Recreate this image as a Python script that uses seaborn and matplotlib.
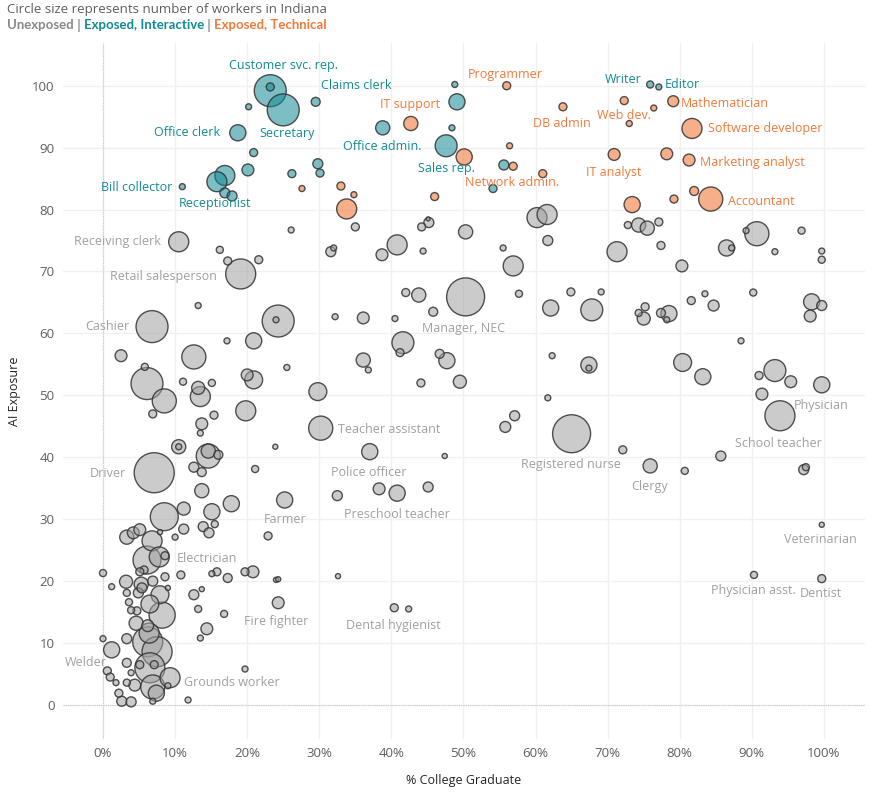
import numpy as np
import pandas as pd
import matplotlib
matplotlib.use("Agg")
import matplotlib.pyplot as plt
import seaborn as sns

# --- Daten: % College-Absolventen, KI-Exposition, Beschäftigte (Tsd.) ---
# Exposed, Interactive
inter_pct = [23.2, 23.2, 25.0, 20.2, 29.5, 18.7, 20.9, 20.1, 16.9, 15.8, 16.9, 17.9, 11.0,
             26.2, 29.8, 30.1, 38.8, 47.6, 49.1, 48.8, 48.4, 55.6, 54.1, 75.9, 77.1]
inter_ai = [99.2, 99.8, 96.1, 96.6, 97.4, 92.4, 89.2, 86.4, 85.5, 84.5, 82.7, 82.2, 83.7,
            85.8, 87.4, 85.9, 93.2, 90.3, 97.4, 100.2, 93.2, 87.2, 83.4, 100.2, 99.8]
inter_workers = [51, 3.2, 51, 1.8, 4, 13, 3.2, 7, 20, 20, 5, 5, 1.8,
                 3.2, 5, 3.2, 10, 24, 13, 1.8, 1.8, 5, 3.2, 2.5, 1.8]
inter_names = ["Customer svc. rep.", "", "Secretary", "", "Claims clerk", "Office clerk", "", "", "", "",
               "Receptionist", "", "Bill collector", "", "", "", "Office admin.", "Sales rep.", "", "", "",
               "", "", "Writer", "Editor"]

# Exposed, Technical
tech_pct = [42.7, 27.6, 33.0, 34.8, 33.8, 46.0, 50.1, 56.0, 56.4, 56.9, 63.8, 61.0,
            72.3, 73.0, 76.4, 79.1, 81.7, 70.9, 78.2, 81.3, 73.4, 79.2, 82.0, 84.3]
tech_ai = [93.9, 83.4, 83.8, 82.4, 80.1, 82.1, 88.5, 100.0, 90.3, 87.0, 96.6, 85.8,
           97.6, 93.9, 96.4, 97.5, 93.1, 88.9, 89.0, 88.0, 80.8, 81.7, 83.0, 81.7]
tech_workers = [10, 1.8, 3.2, 1.8, 20, 3.2, 13, 3.2, 1.8, 3.2, 3.2, 3.2,
                3.2, 1.8, 1.8, 6, 20, 7, 7, 7, 13, 3.2, 4, 29]
tech_names = ["IT support", "", "", "", "", "", "", "Programmer", "", "Network admin.", "DB admin", "",
              "Web dev.", "", "", "Mathematician", "Software developer", "IT analyst", "",
              "Marketing analyst", "", "", "", "Accountant"]

# Unexposed
unexp_pct = [26.1, 35.0, 31.6, 32.0, 38.7, 40.8, 44.2, 45.2, 45.1, 44.4, 50.3, 60.2, 61.6, 55.5,
             56.9, 61.7, 72.8, 74.3, 75.5, 77.1, 71.3, 77.4, 80.3, 86.5, 87.2, 89.2, 90.7, 93.2,
             96.9, 99.7, 99.7, 10.5, 16.2, 17.3, 21.6, 19.1, 42.0, 43.8, 50.3, 57.7, 62.1, 64.9,
             69.1, 67.8, 75.2, 74.3, 75.0, 77.4, 78.5, 78.2, 81.6, 83.5, 84.7, 90.2, 98.3, 99.7,
             98.1, 13.2, 32.2, 36.1, 40.5, 45.8, 24.3, 24.0, 6.8, 41.6, 41.2, 36.1, 36.8, 25.5,
             46.7, 47.7, 49.5, 44.1, 62.3, 61.7, 29.8, 88.5, 67.4, 67.4, 80.4, 83.2, 91.0, 93.2,
             95.4, 99.7, 91.4, 93.9, 57.1, 55.8, 65.0, 47.4, 72.1, 75.9, 80.7, 85.7, 97.2, 97.5,
             99.7, 90.3, 99.7, 2.5, 12.6, 20.9, 17.2, 5.8, 6.1, 8.5, 6.9, 11.1, 13.2, 13.5, 15.1,
             20.0, 20.9, 19.8, 15.4, 13.7, 13.5, 30.2, 10.5, 10.5, 14.6, 14.6, 16.0, 12.6, 13.7,
             21.1, 23.9, 7.1, 37.0, 38.3, 40.8, 45.1, 32.5, 25.2, 13.7, 17.8, 11.2, 15.1, 8.5,
             11.2, 13.9, 14.7, 15.5, 10.0, 7.9, 22.9, 3.3, 4.2, 5.1, 6.8, 6.1, 7.8, 8.6, 5.7,
             5.1, 0.0, 3.2, 6.9, 8.6, 10.8, 15.1, 15.8, 17.3, 19.7, 20.8, 24.0, 24.3, 32.6, 1.2,
             3.3, 5.3, 4.9, 5.4, 7.9, 9.0, 12.6, 13.7, 3.6, 3.9, 4.7, 6.5, 8.2, 13.2, 16.8, 24.3,
             4.6, 6.2, 14.4, 13.5, 40.4, 42.4, 6.4, 6.2, 7.5, 3.3, 0.0, 1.2, 3.3, 5.1, 6.5, 7.1,
             3.9, 0.6, 1.0, 1.8, 4.4, 3.3, 6.9, 9.3, 9.0, 2.2, 2.6, 3.9, 7.4, 6.9, 11.8, 19.7]
unexp_ai = [76.7, 77.2, 73.2, 73.8, 72.7, 74.3, 77.2, 77.9, 78.5, 73.3, 76.4, 78.7, 79.2, 73.8,
            70.9, 75.0, 77.5, 77.5, 77.0, 78.0, 73.2, 74.2, 70.9, 73.8, 73.8, 76.6, 76.1, 73.2,
            76.6, 73.3, 71.9, 74.8, 73.5, 71.7, 71.9, 69.6, 66.6, 66.2, 65.9, 66.4, 64.1, 66.7,
            66.7, 63.8, 64.3, 63.3, 62.4, 63.3, 63.2, 62.2, 65.3, 66.4, 64.5, 66.6, 65.1, 64.5,
            62.8, 64.5, 62.7, 62.5, 62.4, 63.5, 62.0, 62.2, 61.1, 58.5, 56.9, 55.7, 54.1, 54.5,
            56.7, 55.6, 52.2, 52.0, 56.4, 49.6, 50.6, 58.8, 54.9, 54.4, 55.3, 53.0, 53.2, 54.0,
            52.2, 51.7, 50.2, 46.7, 46.7, 44.9, 43.8, 40.2, 41.2, 38.6, 37.8, 40.2, 38.0, 38.4,
            29.1, 21.0, 20.4, 56.4, 56.2, 58.8, 58.8, 54.6, 51.9, 49.1, 47.0, 52.2, 51.2, 49.8, 52.0,
            53.3, 52.5, 47.5, 46.8, 45.4, 43.9, 44.7, 41.7, 41.7, 40.2, 41.0, 40.4, 38.4, 37.6,
            38.1, 41.7, 37.5, 40.9, 34.9, 34.2, 35.2, 33.8, 33.1, 34.6, 32.5, 31.7, 31.2, 30.4,
            28.4, 28.8, 27.8, 29.2, 27.1, 27.9, 27.3, 27.1, 27.8, 28.3, 26.5, 23.4, 23.9, 24.1, 21.8,
            21.5, 21.3, 19.9, 20.0, 20.7, 21.0, 21.2, 21.5, 20.5, 21.5, 21.5, 20.2, 20.3, 20.8, 19.1,
            18.1, 19.5, 18.1, 18.9, 17.8, 18.9, 17.8, 18.7, 16.6, 15.3, 15.2, 16.3, 14.5, 15.5, 14.7, 16.5,
            13.2, 12.8, 12.3, 10.8, 15.7, 15.5, 11.6, 10.2, 8.6, 10.7, 10.7, 8.9, 6.8, 6.5, 6.0, 6.5,
            5.2, 5.5, 4.5, 3.6, 3.2, 3.6, 2.9, 4.4, 3.1, 1.9, 0.6, 0.5, 1.9, 0.6, 0.8, 5.8]
unexp_workers = [1.8, 3.2, 5, 1.8, 7, 20, 3.2, 5, 0.8, 1.8, 10, 20, 20, 1.8,
                 20, 5, 2.5, 10, 10, 3.2, 20, 3.2, 7, 13, 1.8, 1.8, 29, 1.8,
                 2.5, 1.8, 2.5, 20, 2.5, 3.2, 3.2, 45, 3.2, 10, 72, 2.5, 13, 3.2,
                 1.8, 24, 3.2, 2.5, 8.5, 4, 13, 1.8, 3.2, 1.8, 6, 2.5, 13, 5,
                 7, 1.8, 1.8, 7, 1.8, 4, 51, 1.8, 51, 24, 3.2, 10, 1.8, 1.8,
                 4, 13, 8.5, 3.2, 1.8, 1.8, 16, 1.8, 13, 1.8, 16, 13, 3.2, 24,
                 7, 13, 7, 45, 5, 6, 72, 1.3, 3.2, 10, 2.5, 5, 5, 2.5,
                 1.3, 2.5, 3.2, 7, 29, 13, 1.8, 2.5, 51, 29, 3.2, 2.5, 8.5, 20, 2.5,
                 7, 16, 20, 3.2, 7, 1.8, 29, 10, 1.8, 29, 10, 4, 5, 4,
                 2.5, 1.3, 80, 13, 7, 13, 5, 5, 13, 10, 13, 8.5, 13, 39,
                 5, 5, 5, 2.5, 1.8, 1.3, 3.2, 10, 7, 7, 20, 39, 20, 3.2, 3.2,
                 3.2, 2.5, 8.5, 5, 3.2, 3.2, 1.8, 3.2, 4, 3.2, 7, 1.3, 1.3, 1.3, 1.8,
                 2.5, 10, 5, 5, 16, 1.3, 5, 1.3, 2.5, 2.5, 3.2, 16, 34, 2.5, 2.5, 7,
                 10, 7, 7, 1.8, 3.2, 1.8, 20, 45, 45, 5, 1.8, 13, 4, 3.2, 45, 3.2,
                 1.8, 3.2, 3.2, 1.8, 7, 2.5, 29, 20, 1.8, 3.2, 5, 5, 13, 1.8, 1.8, 1.8]
unexp_labels = {  # (pct, ai) -> Beruf
    (10.5, 74.8): "Receiving clerk", (19.1, 69.6): "Retail salesperson",
    (50.3, 65.9): "Manager, NEC", (6.8, 61.1): "Cashier", (99.7, 51.7): "Physician",
    (93.9, 46.7): "School teacher", (65.0, 43.8): "Registered nurse", (75.9, 38.6): "Clergy",
    (99.7, 29.1): "Veterinarian", (90.3, 21.0): "Physician asst.", (99.7, 20.4): "Dentist",
    (30.2, 44.7): "Teacher assistant", (7.1, 37.5): "Driver", (37.0, 40.9): "Police officer",
    (40.8, 34.2): "Preschool teacher", (25.2, 33.1): "Farmer", (7.8, 23.9): "Electrician",
    (24.3, 16.5): "Fire fighter", (40.4, 15.7): "Dental hygienist", (3.3, 6.8): "Welder",
    (9.3, 4.4): "Grounds worker",
}
unexp_names = [unexp_labels.get((p, a), "") for p, a in zip(unexp_pct, unexp_ai)]

groups = ["Unexposed", "Exposed, Interactive", "Exposed, Technical"]

# --- Layout der Beschriftungen: (dx px, dy px nach unten, ha) ---
label_pos = {
    "Customer svc. rep.": (13, -25, "center"), "Claims clerk": (5, -16, "left"),
    "Secretary": (-24, 24, "left"), "Office clerk": (-18, 0, "right"),
    "Office admin.": (0, 19, "center"), "Sales rep.": (0, 23, "center"),
    "Bill collector": (-10, 1, "right"), "Receptionist": (-10, 11, "center"),
    "Writer": (-8, -5, "right"), "Editor": (6, -2, "left"),
    "Programmer": (-1, -11, "center"), "IT support": (-1, -19, "center"),
    "DB admin": (-1, 17, "center"), "Web dev.": (0, 15, "center"),
    "Mathematician": (8, 2, "left"), "Software developer": (16, 0, "left"),
    "Marketing analyst": (11, 2, "left"), "IT analyst": (0, 18, "center"),
    "Network admin.": (-1, 16, "center"), "Accountant": (17, 2, "left"),
    "Receiving clerk": (-18, 0, "right"), "Retail salesperson": (-24, 3, "right"),
    "Cashier": (-23, 0, "right"), "Manager, NEC": (-2, 32, "center"),
    "Teacher assistant": (17, 1, "left"), "Driver": (-28, 1, "right"),
    "Police officer": (-1, 21, "center"), "Registered nurse": (-1, 31, "center"),
    "Clergy": (-1, 21, "center"), "Physician": (-1, 21, "center"),
    "School teacher": (-1, 28, "center"), "Farmer": (0, 20, "center"),
    "Preschool teacher": (0, 21, "center"), "Electrician": (18, 2, "left"),
    "Veterinarian": (-1, 15, "center"), "Physician asst.": (-1, 16, "center"),
    "Dentist": (-1, 15, "center"), "Fire fighter": (-2, 19, "center"),
    "Dental hygienist": (-1, 18, "center"), "Welder": (-20, 0, "right"),
    "Grounds worker": (14, 5, "left"),
}

grey, teal, orange = "#a0a0a0", "#118a93", "#f07a3a"
fill = {
    "Unexposed": (0.63, 0.63, 0.63, 0.55),
    "Exposed, Interactive": (0.07, 0.54, 0.58, 0.55),
    "Exposed, Technical": (0.94, 0.48, 0.23, 0.6),
}
text_col = {"Unexposed": grey, "Exposed, Interactive": teal, "Exposed, Technical": orange}

df = pd.concat([
    pd.DataFrame({"pct": unexp_pct, "ai": unexp_ai, "workers": unexp_workers,
                  "name": unexp_names, "group": groups[0]}),
    pd.DataFrame({"pct": inter_pct, "ai": inter_ai, "workers": inter_workers,
                  "name": inter_names, "group": groups[1]}),
    pd.DataFrame({"pct": tech_pct, "ai": tech_ai, "workers": tech_workers,
                  "name": tech_names, "group": groups[2]}),
], ignore_index=True)
df["order"] = df["group"].map({g: i for i, g in enumerate(groups)})
df = df.sort_values(["order", "workers"], ascending=[True, False])

sns.set_theme(style="white")
plt.rcParams["font.family"] = ["Open Sans", "DejaVu Sans"]

fig = plt.figure(figsize=(8.69, 7.98), dpi=100)
ax = fig.add_axes([63 / 869, 1 - 739 / 798, 802 / 869, 696 / 798])

sns.scatterplot(data=df, x="pct", y="ai", hue="group", palette=fill, size="workers",
                sizes=(0, 830), size_norm=(0, 80), edgecolor=(0.2, 0.2, 0.2, 0.85),
                linewidth=1.0, legend=False, ax=ax, zorder=3)

px2pt = 72 / 100
for _, r in df[df["name"] != ""].iterrows():
    dx, dy, ha = label_pos[r["name"]]
    ax.annotate(r["name"], (r["pct"], r["ai"]), xytext=(dx * px2pt, -dy * px2pt),
                textcoords="offset points", ha=ha, va="center", fontsize=9,
                color=text_col[r["group"]], zorder=5)

ax.set_xlim(-5.55, 105.7)
ax.set_ylim(-5.5, 106.9)
ax.set_xticks(np.arange(0, 101, 10))
ax.set_xticklabels([f"{v}%" for v in range(0, 101, 10)])
ax.set_yticks(np.arange(0, 101, 10))
ax.grid(True, color="#f0f0f0", linewidth=1, zorder=0)
ax.axvline(0, color="#c8c8c8", linestyle=(0, (1, 1)), linewidth=0.8, zorder=1)
ax.axhline(0, color="#c8c8c8", linestyle=(0, (1, 1)), linewidth=0.8, zorder=1)
for s in ax.spines.values():
    s.set_visible(False)
ax.tick_params(axis="both", length=0, labelsize=9.5, labelcolor="#605e5c", pad=6)
ax.set_xlabel("% College Graduate", fontsize=9, color="#252423", labelpad=10)
ax.set_ylabel("AI Exposure", fontsize=9, color="#252423", labelpad=8)

# Kopfzeilen
fig.text(7 / 869, 1 - 9 / 798, "Circle size represents number of workers in Indiana",
         fontsize=9.5, color="#605e5c", va="center")
renderer = fig.canvas.get_renderer()
x0 = 7 / 869
parts = [("Unexposed", "#8a8886"), (" | ", "#8a8886"), ("Exposed, Interactive", teal),
         (" | ", "#8a8886"), ("Exposed, Technical", orange)]
for txt, col in parts:
    t = fig.text(x0, 1 - 25 / 798, txt, fontsize=9.5, fontweight="bold", color=col,
                 va="center", family=["Lato", "DejaVu Sans"])
    bb = t.get_window_extent(renderer=renderer)
    x0 += bb.width / fig.bbox.width

fig.savefig("out.png", dpi=100)
